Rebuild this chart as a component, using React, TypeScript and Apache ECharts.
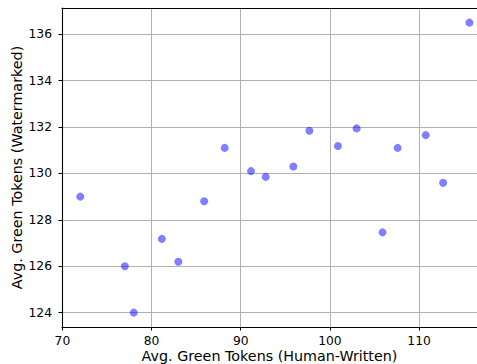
import React, { useEffect, useRef } from "react";
import * as echarts from "echarts";

const humanWritten = [72.0, 77.0, 78.0, 81.15, 83.0, 85.9, 88.2, 91.15, 92.8, 95.9, 97.7, 100.9, 103.0, 105.9, 107.6, 110.75, 112.7, 115.65];
const watermarked = [129.0, 126.0, 124.0, 127.18, 126.19, 128.8, 131.1, 130.1, 129.85, 130.3, 131.84, 131.18, 131.94, 127.46, 131.1, 131.65, 129.6, 136.5];
const xTicks = [70, 80, 90, 100, 110];
const yTicks = [124, 126, 128, 130, 132, 134, 136];

const FONT = "DejaVu Sans";

export default function App() {
  const ref = useRef<HTMLDivElement>(null);
  useEffect(() => {
    if (!ref.current) return;
    const chart = echarts.init(ref.current, null, { renderer: "svg" });
    const points = humanWritten.map((x, i) => [x, watermarked[i]]);
    chart.setOption({
      animation: false,
      backgroundColor: "#ffffff",
      grid: { left: 62, right: 0, top: 8, bottom: 37, containLabel: false, outerBoundsMode: "none" },
      xAxis: [
        {
          type: "value",
          min: 69.95,
          max: 116.5,
          name: "Avg. Green Tokens (Human-Written)",
          nameLocation: "middle",
          nameGap: 22,
          nameMoveOverlap: false,
          nameTextStyle: { fontFamily: FONT, fontSize: 14.3, color: "#000" },
          axisLine: { show: true, lineStyle: { color: "#000", width: 1.1 } },
          axisTick: { show: true, length: 3.5, lineStyle: { color: "#000", width: 1 }, customValues: xTicks },
          axisLabel: { fontFamily: FONT, fontSize: 12.3, color: "#000", margin: 8, customValues: xTicks },
          splitLine: { show: true, lineStyle: { color: "#b0b0b0", width: 1 } },
        },
        {
          type: "value",
          position: "top",
          min: 69.95,
          max: 116.5,
          axisLine: { show: true, lineStyle: { color: "#000", width: 1.1 } },
          axisTick: { show: false },
          axisLabel: { show: false },
          splitLine: { show: false },
        },
      ],
      yAxis: {
        type: "value",
        min: 123.38,
        max: 137.13,
        name: "Avg. Green Tokens (Watermarked)",
        nameLocation: "middle",
        nameGap: 38,
        nameMoveOverlap: false,
        nameTextStyle: { fontFamily: FONT, fontSize: 14.3, color: "#000" },
        axisLine: { show: true, lineStyle: { color: "#000", width: 1.1 } },
        axisTick: { show: true, length: 3.5, lineStyle: { color: "#000", width: 1 }, customValues: yTicks },
        axisLabel: { fontFamily: FONT, fontSize: 12.3, color: "#000", margin: 10, customValues: yTicks },
        splitLine: { show: true, lineStyle: { color: "#b0b0b0", width: 1 } },
      },
      series: [
        {
          type: "scatter",
          data: points,
          symbol: "circle",
          symbolSize: 8,
          itemStyle: { color: "rgba(0,0,255,0.5)", opacity: 1 },
        },
      ],
    });
    return () => chart.dispose();
  }, []);
  return (
    <div
      ref={ref}
      style={{ position: "absolute", left: 0, top: 0, width: 477, height: 364 }}
    />
  );
}
